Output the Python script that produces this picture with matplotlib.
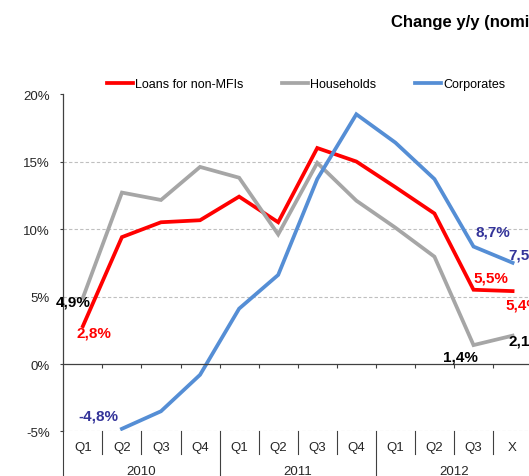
import numpy as np
import matplotlib
matplotlib.use("Agg")
import matplotlib.pyplot as plt

plt.rcParams['font.family'] = ['Liberation Sans', 'DejaVu Sans']

# data (% change y/y)
quarters = ['Q1', 'Q2', 'Q3', 'Q4', 'Q1', 'Q2', 'Q3', 'Q4', 'Q1', 'Q2', 'Q3', 'X']
years = ['2010', '2011', '2012']
loans = [2.8, 9.4, 10.5, 10.65, 12.4, 10.5, 16.0, 15.0, 13.1, 11.15, 5.5, 5.4]
households = [4.9, 12.7, 12.15, 14.6, 13.8, 9.6, 14.9, 12.1, 10.1, 7.95, 1.4, 2.1]
corporates = [np.nan, -4.8, -3.5, -0.8, 4.1, 6.6, 13.7, 18.5, 16.4, 13.7, 8.7, 7.5]

series_names = ['Loans for non-MFIs', 'Households', 'Corporates']

x = np.arange(len(quarters))

fig = plt.figure(figsize=(5.29, 4.77), dpi=100)
ax = fig.add_axes([0.1197, 0.0933, 0.8862, 0.7075])

colors = ['#FF0000', '#A6A6A6', '#558ED5']
label_colors = ['#FF0000', '#000000', '#333399']
all_series = [loans, households, corporates]

for vals, col, name in zip(all_series, colors, series_names):
    ax.plot(x, vals, color=col, lw=2.7, label=name, solid_joinstyle='miter')

# which points carry a value label, and where the label sits (pixel offset)
label_points = [
    [(0, (11, -6)), (10, (17, 12)), (11, (10, -13))],
    [(0, (-10, -4)), (10, (-13, -11)), (11, (13, -5))],
    [(1, (-24, 13)), (10, (19, 15)), (11, (13, 8))],
]
for vals, lcol, pts in zip(all_series, label_colors, label_points):
    for i, off in pts:
        txt = f"{vals[i]:.1f}%".replace('.', ',')
        ax.annotate(txt, (x[i], vals[i]), xytext=off, textcoords='offset pixels',
                    ha='center', va='center', fontsize=11, fontweight='bold',
                    color=lcol, annotation_clip=False)

ax.set_xlim(-0.5, len(quarters) - 0.5)
ax.set_ylim(-5, 20)
ax.set_yticks([-5, 0, 5, 10, 15, 20])
ax.set_yticklabels([f"{v}%" for v in [-5, 0, 5, 10, 15, 20]])
ax.tick_params(axis='y', direction='out', length=2.5, width=0.8, pad=7,
               labelsize=9.5, colors='#404040', labelcolor='#262626')

ax.yaxis.grid(True, linestyle=(0, (3, 2)), color='#BFBFBF', lw=0.8)
for v, gl in zip([-5, 0, 5, 10, 15, 20], ax.get_ygridlines()):
    if v in (0, 20):
        gl.set_visible(False)
ax.set_axisbelow(True)

for s in ['top', 'right']:
    ax.spines[s].set_visible(False)
ax.spines['left'].set_color('#404040')
ax.spines['left'].set_linewidth(0.9)
ax.spines['bottom'].set_position(('data', 0))
ax.spines['bottom'].set_color('#404040')
ax.spines['bottom'].set_linewidth(0.9)

bounds = np.arange(len(quarters) + 1) - 0.5
ax.set_xticks(bounds[1:])
ax.tick_params(axis='x', direction='out', length=3, width=0.8, colors='#404040',
               labelbottom=False)

# multi level category labels below the plot
tr = ax.get_xaxis_transform()
for i, q in enumerate(quarters):
    ax.text(x[i], -0.047, q, transform=tr, ha='center', va='center',
            fontsize=9.5, color='#262626', clip_on=False)
per_year = len(quarters) // len(years)
for k, yr in enumerate(years):
    ax.text(k * per_year + (per_year - 1) / 2, -0.118, yr, transform=tr,
            ha='center', va='center', fontsize=9.5, color='#262626', clip_on=False)
for j, b in enumerate(bounds):
    depth = -0.3 if j % per_year == 0 else -0.067
    ax.plot([b, b], [0, depth], transform=tr, color='#404040', lw=0.8,
            clip_on=False)

fig.legend(loc='center', bbox_to_anchor=(305.9 / 529, 1 - 85 / 477), ncol=3,
           frameon=False, fontsize=9, handlelength=2.1, handletextpad=0.15,
           columnspacing=3.1, borderpad=0, borderaxespad=0)

fig.text(391 / 529, 1 - 22.7 / 477, 'Change y/y (nominal)', ha='left', va='center',
         fontsize=12, fontweight='bold', color='#000000')

plt.savefig("out.png", dpi=100)
